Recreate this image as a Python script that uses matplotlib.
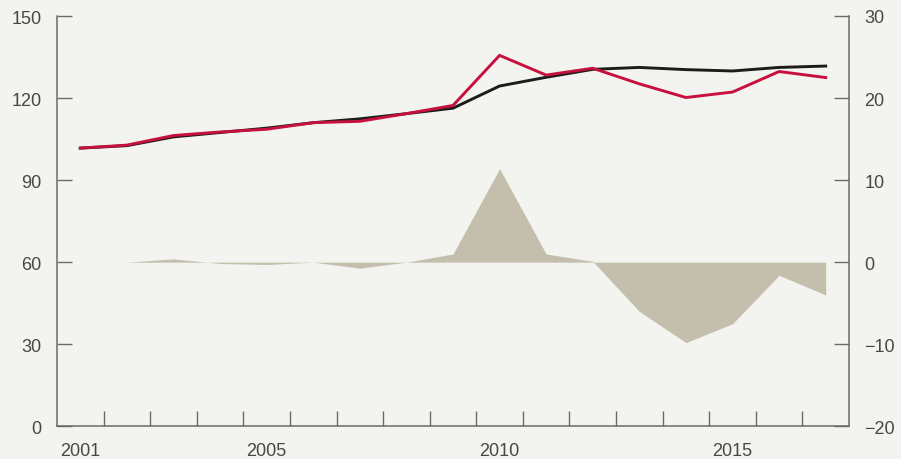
import matplotlib
matplotlib.use("Agg")
import matplotlib.pyplot as plt
from matplotlib.ticker import FuncFormatter

years = list(range(2001, 2018))
black_series = [101.7, 102.6, 105.8, 107.4, 109.0, 111.0, 112.4, 114.3, 116.3,
                124.4, 127.6, 130.5, 131.2, 130.4, 129.9, 131.2, 131.7]
red_series = [101.7, 102.8, 106.3, 107.6, 108.6, 111.0, 111.5, 114.3, 117.3,
              135.6, 128.4, 130.9, 125.2, 120.2, 122.2, 129.7, 127.5]
gap_series = [0.0, 0.0, 0.4, -0.16, -0.28, 0.0, -0.73, 0.0, 1.0,
              11.4, 1.0, 0.1, -6.0, -9.8, -7.5, -1.6, -4.0]

left_ticks = [0, 30, 60, 90, 120, 150]
right_ticks = [-20, -10, 0, 10, 20, 30]
year_labels = [2001, 2005, 2010, 2015]

BG = "#f3f3ef"
RED = "#c8103e"
BLACK = "#1c1c1c"
AREA = "#c4bfad"
AXIS = "#6a6a6a"
TEXT = "#474747"

plt.rcParams["font.family"] = ["Liberation Sans", "DejaVu Sans"]

fig = plt.figure(figsize=(9.01, 4.60), dpi=100, facecolor=BG)
ax = fig.add_axes([57 / 901, 1 - 427.3 / 460, (849 - 57) / 901, (427.3 - 17) / 460])
ax2 = ax.twinx()

# difference area on the right-hand scale, kept behind the lines
ax2.set_zorder(0)
ax.set_zorder(1)
ax.patch.set_visible(False)
ax2.patch.set_facecolor(BG)
ax2.fill_between(years, 0, gap_series, color=AREA, linewidth=0)

ax.plot(years, black_series, color=BLACK, linewidth=2.1, solid_joinstyle="miter")
ax.plot(years, red_series, color=RED, linewidth=2.1, solid_joinstyle="miter")

ax.set_xlim(2000.5, 2017.5)
ax.set_ylim(0, 150)
ax2.set_ylim(-20, 30)

ax.set_yticks(left_ticks)
ax2.set_yticks(right_ticks)
ax2.yaxis.set_major_formatter(FuncFormatter(lambda v, p: f"{int(v)}".replace("-", "\u2212")))

ax.set_xticks(year_labels)
ax.set_xticklabels([str(y) for y in year_labels])
ax.set_xticks([y + 0.5 for y in years[:-1]], minor=True)

for a in (ax, ax2):
    for s in a.spines.values():
        s.set_visible(False)
ax.spines["left"].set_visible(True)
ax.spines["bottom"].set_visible(True)
ax2.spines["right"].set_visible(True)
for s in (ax.spines["left"], ax.spines["bottom"], ax2.spines["right"]):
    s.set_color(AXIS)
    s.set_linewidth(1.1)

ax.tick_params(axis="y", direction="in", length=11, width=1.0, color=AXIS,
               labelsize=13, labelcolor=TEXT, pad=11)
ax2.tick_params(axis="y", direction="in", length=11, width=1.0, color=AXIS,
                labelsize=13, labelcolor=TEXT, pad=11)
ax.tick_params(axis="x", which="major", length=0, labelsize=13, labelcolor=TEXT, pad=11)
ax.tick_params(axis="x", which="minor", direction="in", length=11, width=1.0, color=AXIS)

fig.savefig("out.png", dpi=100, facecolor=BG)
